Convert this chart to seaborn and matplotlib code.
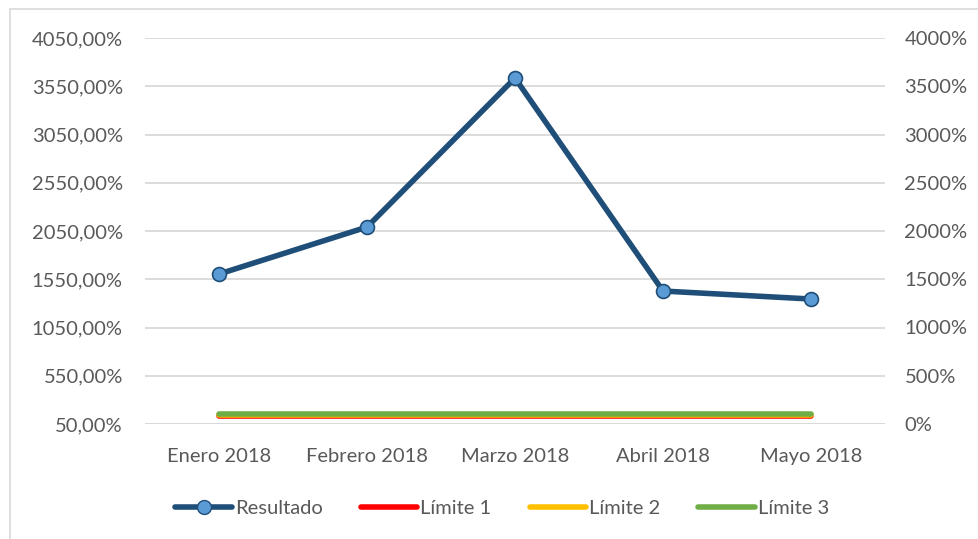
import matplotlib
matplotlib.use('Agg')
import matplotlib.pyplot as plt
import matplotlib.lines as mlines
import seaborn as sns
import pandas as pd

# Datos
meses = ['Enero 2018', 'Febrero 2018', 'Marzo 2018', 'Abril 2018', 'Mayo 2018']
resultado = [1604, 2091, 3635, 1428, 1345]
limite_1 = [80, 80, 80, 80, 80]
limite_2 = [90, 90, 90, 90, 90]
limite_3 = [100, 100, 100, 100, 100]

ticks_izq = [50, 550, 1050, 1550, 2050, 2550, 3050, 3550, 4050]
ticks_der = [0, 500, 1000, 1500, 2000, 2500, 3000, 3500, 4000]

df = pd.DataFrame({'mes': meses, 'Resultado': resultado,
                   'Límite 1': limite_1, 'Límite 2': limite_2, 'Límite 3': limite_3})

sns.set_style('white')
plt.rcParams['font.family'] = ['Lato', 'DejaVu Sans']

gris = '#595959'
fs = 14.5
fig = plt.figure(figsize=(9.79, 5.39), dpi=100)
ax = fig.add_axes([145 / 979, 1 - 424 / 539, 740 / 979, 386 / 539])
ax2 = ax.twinx()

# Eje secundario: límites
sns.lineplot(data=df, x='mes', y='Límite 1', ax=ax2, color='#ff0000', linewidth=4,
             solid_capstyle='round', sort=False)
sns.lineplot(data=df, x='mes', y='Límite 2', ax=ax2, color='#ffc000', linewidth=4,
             solid_capstyle='round', sort=False)
sns.lineplot(data=df, x='mes', y='Límite 3', ax=ax2, color='#70ad47', linewidth=4,
             solid_capstyle='round', sort=False)
ax2.set_ylim(0, 4000)
ax2.set_yticks(ticks_der)
ax2.set_yticklabels([f'{t}%' for t in ticks_der])

# Eje principal: resultado
sns.lineplot(data=df, x='mes', y='Resultado', ax=ax, color='#1f4e79', linewidth=4,
             marker='o', markersize=10, markerfacecolor='#5b9bd5',
             markeredgecolor='#1f4e79', markeredgewidth=1.2, sort=False, zorder=5)
ax.set_ylim(50, 4050)
ax.set_yticks(ticks_izq)
ax.set_yticklabels([f'{t},00%' for t in ticks_izq])
ax.set_xlim(-0.5, 4.5)
ax.set_zorder(ax2.get_zorder() + 1)
ax.patch.set_visible(False)

ax.yaxis.grid(True, color='#d9d9d9', linewidth=1.3)
ax.set_axisbelow(True)
for a in (ax, ax2):
    for s in a.spines.values():
        s.set_visible(False)
    a.set_xlabel('')
    a.set_ylabel('')
    a.tick_params(axis='both', length=0, labelsize=fs, labelcolor=gris)
ax.tick_params(axis='y', pad=16)
ax2.tick_params(axis='y', pad=14)
ax.tick_params(axis='x', pad=17)
ax.axhline(50, color='#d9d9d9', linewidth=1.3)

# Leyenda
handles = [
    mlines.Line2D([], [], color='#1f4e79', linewidth=4, marker='o', markersize=10,
                  markerfacecolor='#5b9bd5', markeredgecolor='#1f4e79'),
    mlines.Line2D([], [], color='#ff0000', linewidth=4, solid_capstyle='round'),
    mlines.Line2D([], [], color='#ffc000', linewidth=4, solid_capstyle='round'),
    mlines.Line2D([], [], color='#70ad47', linewidth=4, solid_capstyle='round'),
]
leg = fig.legend(handles, ['Resultado', 'Límite 1', 'Límite 2', 'Límite 3'],
                 loc='center', bbox_to_anchor=(0.513, 1 - 508 / 539), ncol=4,
                 frameon=False, fontsize=fs, handlelength=2.8, handletextpad=0.15,
                 columnspacing=1.9)
for t in leg.get_texts():
    t.set_color(gris)

# Borde del gráfico
fig.add_artist(mlines.Line2D([10 / 979, 10 / 979], [0, 1 - 9 / 539],
                             color='#d9d9d9', linewidth=1.2, transform=fig.transFigure))
fig.add_artist(mlines.Line2D([10 / 979, 1], [1 - 9 / 539, 1 - 9 / 539],
                             color='#d9d9d9', linewidth=1.2, transform=fig.transFigure))

fig.savefig('out.png', dpi=100)
